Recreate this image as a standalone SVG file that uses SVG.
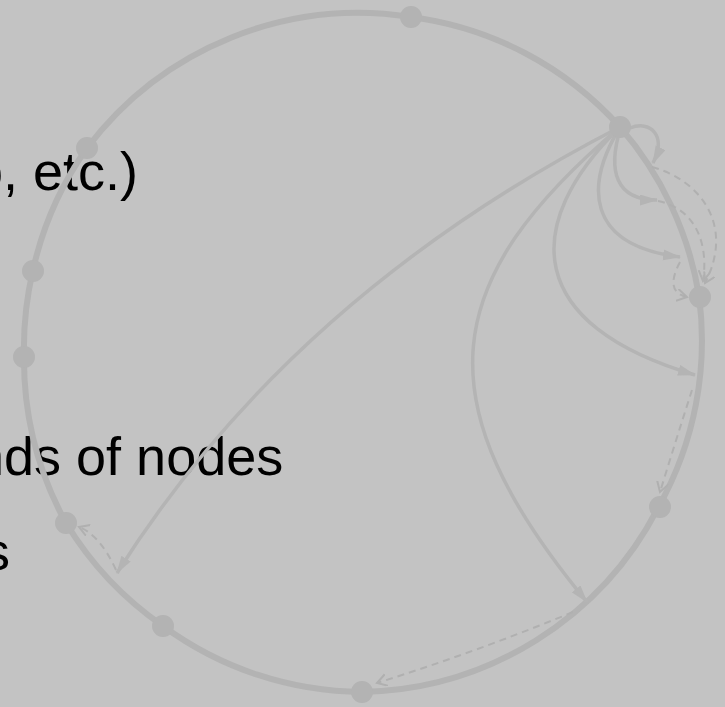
<svg xmlns="http://www.w3.org/2000/svg" width="725" height="707" viewBox="0 0 725 707">
<style>
.txt{font-family:"Liberation Sans",Arial,sans-serif;font-size:54px;fill:#000}
.ring{fill:none;stroke:#b3b3b3;stroke-width:6}
.node{fill:#b3b3b3}
.solid{fill:none;stroke:#b4b4b4;stroke-width:3.5}
.dash{fill:none;stroke:#b0b0b0;stroke-width:2;stroke-dasharray:7 5}
</style>
<defs>
<marker id="ah" markerUnits="userSpaceOnUse" markerWidth="20" markerHeight="12" refX="17" refY="5.5" orient="auto">
<path d="M0,0 L18,5.5 L0,11 z" fill="#b4b4b4"/>
</marker>
<marker id="oh" markerUnits="userSpaceOnUse" markerWidth="14" markerHeight="14" refX="10" refY="6" orient="auto">
<path d="M0,0 L10,6 L0,12" fill="none" stroke="#b0b0b0" stroke-width="2"/>
</marker>
</defs>
<rect x="0" y="0" width="725" height="707" fill="#c3c3c3"/>
<g id="texts">
<text class="txt" x="-27" y="190">o, etc.)</text>
<text class="txt" x="-26" y="475">nds of nodes</text>
<text class="txt" x="-17" y="570">s</text>
</g>
<g id="ring">
<path class="ring" d="M411,17 A340,340 0 0 1 620,127 A340,340 0 0 1 699,296 A340,340 0 0 1 659,506 A340,340 0 0 1 362,692 A340,340 0 0 1 163,626 A340,340 0 0 1 66,523 A340,340 0 0 1 24,356 A340,340 0 0 1 33,270 A340,340 0 0 1 87,148 A340,340 0 0 1 411,17 Z"/>
</g>
<g id="connectors">
<path class="solid" d="M620,127 Q292,296 117,573" marker-end="url(#ah)"/>
<path class="solid" d="M620,127 C440,280 420,400 587,602" marker-end="url(#ah)"/>
<path class="solid" d="M620,127 C520,225 525,325 695,375" marker-end="url(#ah)"/>
<path class="solid" d="M620,127 C585,185 585,245 680,257" marker-end="url(#ah)"/>
<path class="solid" d="M620,130 C608,170 615,200 657,200" marker-end="url(#ah)"/>
<path class="solid" d="M630,128 C650,120 667,135 653,163" marker-end="url(#ah)"/>
<path class="dash" d="M652,167 C700,180 735,225 705,283" marker-end="url(#oh)"/>
<path class="dash" d="M658,201 C700,210 708,250 703,281" marker-end="url(#oh)"/>
<path class="dash" d="M680,262 Q664,292 687,297" marker-end="url(#oh)"/>
<path class="dash" d="M692,390 Q676,440 660,492" marker-end="url(#oh)"/>
<path class="dash" d="M573,612 Q476,652 377,683" marker-end="url(#oh)"/>
<path class="dash" d="M116,570 Q100,535 79,527" marker-end="url(#oh)"/>
</g>
<g id="nodes">
<circle id="n1" class="node" cx="411" cy="17" r="11"/>
<circle id="n2" class="node" cx="620" cy="127" r="11"/>
<circle id="n3" class="node" cx="700" cy="297" r="11"/>
<circle id="n4" class="node" cx="660" cy="507" r="11"/>
<circle id="n5" class="node" cx="362" cy="692" r="11"/>
<circle id="n6" class="node" cx="163" cy="626" r="11"/>
<circle id="n7" class="node" cx="66" cy="523" r="11"/>
<circle id="n8" class="node" cx="24" cy="357" r="11"/>
<circle id="n9" class="node" cx="33" cy="271" r="11"/>
<circle id="n10" class="node" cx="87" cy="148" r="11"/>
</g>
</svg>
